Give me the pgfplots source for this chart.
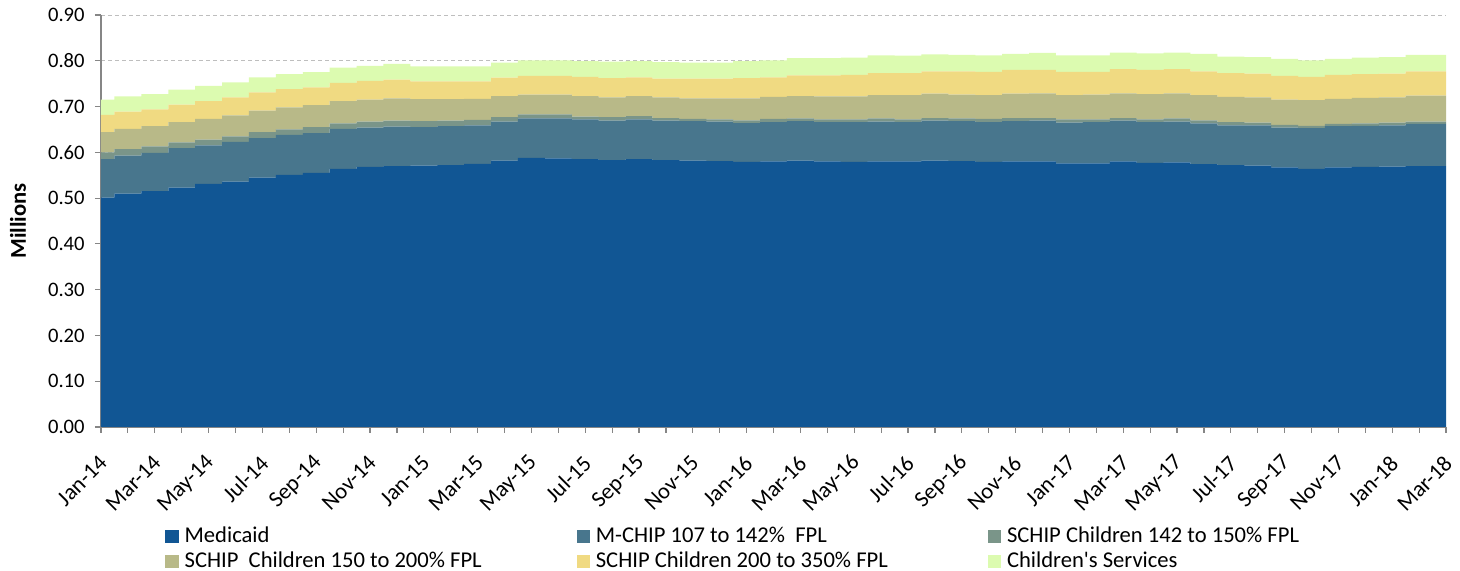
\documentclass[border=0pt]{standalone}
\usepackage{fontspec}
\setmainfont{Carlito}[Ligatures=TeXOff]
\usepackage{pgfplots}
\usepackage{pgfplotstable}
\pgfplotsset{compat=1.18}
\definecolor{cMed}{RGB}{17,86,148}
\definecolor{cMchip}{RGB}{72,118,141}
\definecolor{cS142}{RGB}{122,149,137}
\definecolor{cS150}{RGB}{184,185,136}
\definecolor{cS200}{RGB}{240,218,130}
\definecolor{cCS}{RGB}{220,251,176}
\definecolor{axgray}{RGB}{134,134,134}
\definecolor{gridgray}{RGB}{190,190,190}
\pgfplotstableread{
k med mchip sa sb sc cs
0 .501 .084 .015 .044 .038 .033
1 .510 .083 .014 .044 .038 .033
2 .515 .084 .014 .044 .037 .033
3 .523 .086 .013 .044 .038 .033
4 .531 .084 .013 .045 .039 .033
5 .536 .087 .012 .046 .039 .033
6 .545 .086 .013 .047 .040 .033
7 .551 .087 .012 .048 .040 .033
8 .555 .087 .013 .048 .039 .033
9 .564 .087 .012 .049 .040 .033
10 .568 .086 .013 .048 .041 .033
11 .570 .086 .013 .049 .041 .034
12 .571 .084 .013 .048 .039 .033
13 .572 .085 .012 .047 .039 .033
14 .575 .084 .012 .046 .038 .033
15 .582 .085 .010 .046 .040 .033
16 .588 .086 .009 .043 .041 .034
17 .587 .087 .009 .043 .041 .034
18 .585 .087 .006 .045 .042 .034
19 .583 .086 .008 .043 .042 .036
20 .585 .087 .007 .044 .041 .035
21 .583 .086 .006 .045 .041 .036
22 .582 .086 .005 .045 .043 .035
23 .581 .086 .005 .046 .043 .035
24 .579 .085 .006 .048 .044 .037
25 .580 .086 .007 .048 .043 .037
26 .582 .086 .006 .049 .045 .038
27 .580 .086 .006 .050 .046 .038
28 .579 .087 .006 .050 .047 .038
29 .580 .087 .007 .051 .048 .039
30 .580 .086 .006 .053 .048 .038
31 .582 .087 .006 .053 .049 .037
32 .581 .087 .006 .052 .051 .036
33 .579 .087 .007 .052 .051 .036
34 .580 .088 .007 .053 .052 .035
35 .580 .089 .006 .054 .051 .037
36 .576 .089 .007 .053 .051 .036
37 .576 .090 .006 .054 .050 .036
38 .580 .089 .006 .054 .053 .036
39 .577 .089 .006 .055 .053 .036
40 .578 .089 .007 .055 .053 .036
41 .574 .089 .007 .055 .052 .038
42 .572 .087 .007 .055 .052 .036
43 .571 .088 .006 .055 .052 .036
44 .567 .087 .006 .055 .052 .037
45 .564 .089 .005 .056 .051 .036
46 .567 .090 .005 .055 .052 .035
47 .568 .090 .005 .056 .052 .036
48 .569 .090 .006 .055 .052 .036
49 .570 .092 .005 .057 .053 .036
50 .570 .092 .005 .057 .053 .036
}\datatable
\begin{document}
\begin{tikzpicture}
\path[use as bounding box] (-50.5pt,-72pt) rectangle (679.5pt,213.5pt);
\begin{axis}[
  at={(0,0)}, anchor=south west,
  scale only axis, width=672.5pt, height=206pt,
  xmin=0, xmax=50, ymin=0, ymax=0.9,
  stack plots=y, const plot mark mid,
  axis lines*=left,
  axis line style={axgray, line width=0.6pt},
  tick style={axgray, line width=0.6pt},
  tick align=outside, major tick length=3pt, minor tick length=3pt,
  font=\fontsize{10.3}{12}\selectfont,
  /pgf/number format/assume math mode=true,
  ytick={0,0.1,0.2,0.3,0.4,0.5,0.6,0.7,0.8,0.9},
  yticklabel style={/pgf/number format/fixed, /pgf/number format/fixed zerofill, /pgf/number format/precision=2, anchor=east, inner sep=0pt, xshift=-5pt},
  ymajorgrids, grid style={gridgray, dash pattern=on 2pt off 1.5pt, line width=0.5pt},
  xtick={0,2,...,50},
  minor xtick={1,3,...,49},
  xticklabels={Jan-14,Mar-14,May-14,Jul-14,Sep-14,Nov-14,Jan-15,Mar-15,May-15,Jul-15,Sep-15,Nov-15,Jan-16,Mar-16,May-16,Jul-16,Sep-16,Nov-16,Jan-17,Mar-17,May-17,Jul-17,Sep-17,Nov-17,Jan-18,Mar-18},
  xticklabel style={font=\fontsize{11.3}{13}\selectfont, xshift=1.2pt, yshift=-13.2pt, rotate=45, anchor=east, inner sep=0pt},
  ylabel={\textbf{Millions}},
  every axis y label/.style={at={(rel axis cs:0,0.5)}, xshift=-41.5pt, rotate=90, anchor=center, font=\fontsize{11.3}{13}\selectfont},
  legend columns=3,
  legend cell align=left,
  legend image code/.code={\fill[#1] (0pt,-3.3pt) rectangle (6.6pt,3.3pt);},
  legend style={at={(0.0476,-0.2354)}, anchor=north west, draw=none, fill=none,
    inner sep=0pt, row sep=0pt, column sep=0pt, font=\fontsize{11.3}{13}\selectfont,
    nodes={inner xsep=3pt, inner ysep=1pt, text height=8pt, text depth=2.5pt, anchor=west}},
]
\addplot[fill=cMed, draw=none] table[x=k, y=med] {\datatable} \closedcycle;
\addlegendentry{\makebox[193pt][l]{Medicaid}}
\addplot[fill=cMchip, draw=none] table[x=k, y=mchip] {\datatable} \closedcycle;
\addlegendentry{\makebox[193pt][l]{M-CHIP 107 to 142\%\ \ FPL}}
\addplot[fill=cS142, draw=none] table[x=k, y=sa] {\datatable} \closedcycle;
\addlegendentry{\makebox[193pt][l]{SCHIP Children 142 to 150\% FPL}}
\addplot[fill=cS150, draw=none] table[x=k, y=sb] {\datatable} \closedcycle;
\addlegendentry{\makebox[193pt][l]{SCHIP\ \ Children 150 to 200\% FPL}}
\addplot[fill=cS200, draw=none] table[x=k, y=sc] {\datatable} \closedcycle;
\addlegendentry{\makebox[193pt][l]{SCHIP Children 200 to 350\% FPL}}
\addplot[fill=cCS, draw=none] table[x=k, y=cs] {\datatable} \closedcycle;
\addlegendentry{\makebox[193pt][l]{Children's Services}}
\end{axis}
\end{tikzpicture}
\end{document}
